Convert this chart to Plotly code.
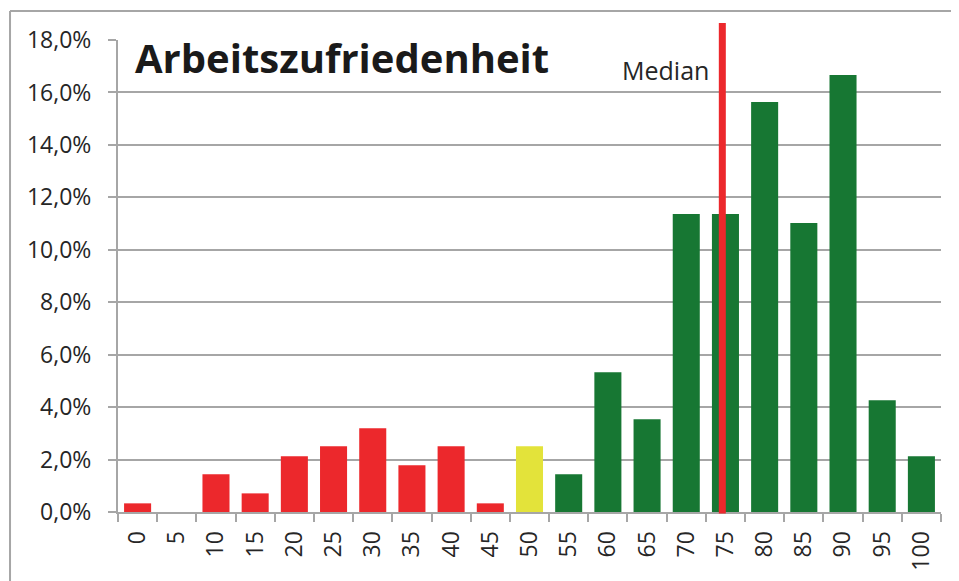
import plotly.graph_objects as go

categories = ["0", "5", "10", "15", "20", "25", "30", "35", "40", "45", "50",
              "55", "60", "65", "70", "75", "80", "85", "90", "95", "100"]
values = [0.33, 0.0, 1.44, 0.71, 2.13, 2.51, 3.19, 1.78, 2.51, 0.33, 2.51,
          1.44, 5.33, 3.54, 11.36, 11.36, 15.64, 11.02, 16.67, 4.26, 2.13]
groups = ["low"] * 10 + ["mid"] + ["high"] * 10
median_value = 74.6
title_text = "Arbeitszufriedenheit"
median_label = "Median"

color_map = {"low": "#EC282C", "mid": "#E3E33A", "high": "#177733"}
colors = [color_map[g] for g in groups]

FONT = "Open Sans"
TXT = "#262626"
GRID = "#A6A6A6"

fig = go.Figure()
fig.add_trace(go.Bar(x=categories, y=values, marker=dict(color=colors, line=dict(width=0)),
                     hoverinfo="x+y"))

# median position in category index units
med_idx = median_value / 5.0

fig.update_layout(
    width=959, height=581,
    margin=dict(l=110, r=26, t=32, b=77, autoexpand=False),
    paper_bgcolor="white", plot_bgcolor="white",
    separators=",.",
    bargap=0.31,
    showlegend=False,
    font=dict(family=FONT, color=TXT, size=23),
    xaxis=dict(type="category", categoryorder="array", categoryarray=categories,
               tickangle=-90, ticks="outside", tickson="boundaries", ticklen=8,
               tickcolor=GRID, tickwidth=2, showline=True, linecolor=GRID, linewidth=2,
               showgrid=False, tickfont=dict(size=23, color=TXT), ticklabelstandoff=8,
               automargin=False),
    yaxis=dict(range=[0, 18], dtick=2, tickformat=".1f", ticksuffix="%",
               ticks="outside", ticklen=8, tickcolor=GRID, tickwidth=2,
               showline=True, linecolor=GRID, linewidth=2,
               showgrid=True, gridcolor=GRID, gridwidth=2, zeroline=False,
               tickfont=dict(size=23, color=TXT), ticklabelstandoff=12,
               automargin=False),
    shapes=[
        dict(type="line", xref="x", yref="paper", x0=med_idx, x1=med_idx, y0=-0.003, y1=1.036,
             line=dict(color="#EC282C", width=7), layer="above"),
        dict(type="line", xref="paper", yref="paper", x0=-0.1312, x1=1.1, y0=1.0614, y1=1.0614,
             line=dict(color=GRID, width=2)),
        dict(type="line", xref="paper", yref="paper", x0=-0.1312, x1=-0.1312, y0=-0.3, y1=1.0614,
             line=dict(color=GRID, width=2)),
    ],
    annotations=[
        dict(text=f"<b>{title_text}</b>", xref="paper", yref="paper", x=0.018, y=0.963,
             xanchor="left", yanchor="middle", showarrow=False,
             font=dict(family=FONT, size=40, color="#1a1a1a")),
        dict(text=median_label, xref="x", yref="paper", x=med_idx - 0.3, y=0.936,
             xanchor="right", yanchor="middle", showarrow=False,
             font=dict(family=FONT, size=25, color=TXT)),
    ],
)

fig.write_html("out.html")
